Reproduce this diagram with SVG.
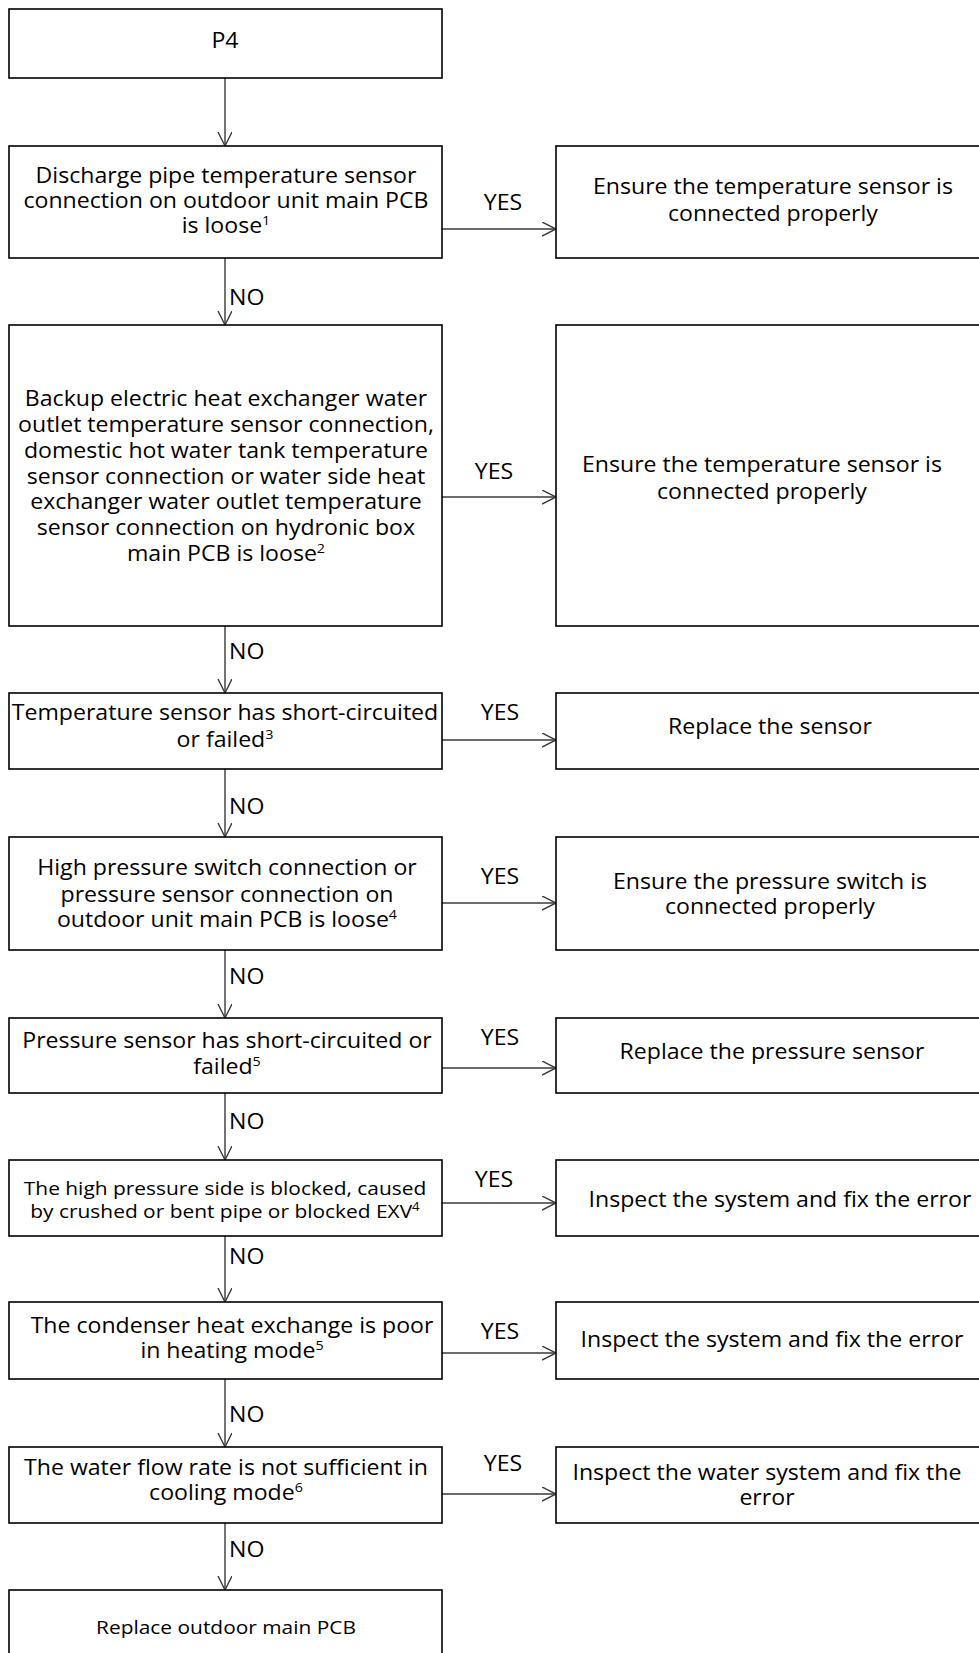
<svg xmlns="http://www.w3.org/2000/svg" width="979" height="1653" viewBox="0 0 979 1653">
<style>
.box{fill:#fff;stroke:#000;stroke-width:1.6}
.t{font-family:"Open Sans","Noto Sans",sans-serif;font-size:21px;fill:#000;text-anchor:middle;transform-box:fill-box;transform-origin:50% 50%;transform:scaleX(1.1)}
.lbl{font-family:"Open Sans","Noto Sans",sans-serif;font-size:21px;fill:#000;transform-box:fill-box;transform-origin:0% 50%;transform:scaleX(1.1)}
.sm{font-size:19px}
.c{stroke:#3a3a3a;stroke-width:1.4;fill:none;marker-end:url(#ah)}
</style>
<defs>
<marker id="ah" markerUnits="userSpaceOnUse" markerWidth="16" markerHeight="16" refX="14" refY="7" orient="auto">
<path d="M0,0 L14,7 L0,14" fill="none" stroke="#3a3a3a" stroke-width="1.4"/>
</marker>
</defs>
<rect width="979" height="1653" fill="#fff"/>
<g id="connectors">
<line class="c" x1="225" y1="78" x2="225" y2="146"/>
<line class="c" x1="225" y1="258" x2="225" y2="325"/>
<line class="c" x1="225" y1="626" x2="225" y2="693"/>
<line class="c" x1="225" y1="769" x2="225" y2="837"/>
<line class="c" x1="225" y1="950" x2="225" y2="1018"/>
<line class="c" x1="225" y1="1093" x2="225" y2="1160"/>
<line class="c" x1="225" y1="1236" x2="225" y2="1302"/>
<line class="c" x1="225" y1="1379" x2="225" y2="1447"/>
<line class="c" x1="225" y1="1523" x2="225" y2="1590"/>
<line class="c" x1="442" y1="229" x2="556" y2="229"/>
<line class="c" x1="442" y1="497" x2="556" y2="497"/>
<line class="c" x1="442" y1="740" x2="556" y2="740"/>
<line class="c" x1="442" y1="903" x2="556" y2="903"/>
<line class="c" x1="442" y1="1068" x2="556" y2="1068"/>
<line class="c" x1="442" y1="1203" x2="556" y2="1203"/>
<line class="c" x1="442" y1="1353" x2="556" y2="1353"/>
<line class="c" x1="442" y1="1494" x2="556" y2="1494"/>
<text class="t" x="503" y="210">YES</text>
<text class="t" x="494" y="479">YES</text>
<text class="t" x="500" y="720">YES</text>
<text class="t" x="500" y="884">YES</text>
<text class="t" x="500" y="1045">YES</text>
<text class="t" x="494" y="1187">YES</text>
<text class="t" x="500" y="1339">YES</text>
<text class="t" x="503" y="1471">YES</text>
<text class="lbl" x="229" y="305">NO</text>
<text class="lbl" x="229" y="659">NO</text>
<text class="lbl" x="229" y="814">NO</text>
<text class="lbl" x="229" y="984">NO</text>
<text class="lbl" x="229" y="1129">NO</text>
<text class="lbl" x="229" y="1264">NO</text>
<text class="lbl" x="229" y="1422">NO</text>
<text class="lbl" x="229" y="1557">NO</text>
</g>
<g id="p4">
<rect class="box" x="9" y="9" width="433" height="69"/>
<text class="t" x="225" y="48">P4</text>
</g>
<g id="d1">
<rect class="box" x="9" y="146" width="433" height="112"/>
<text class="t" x="226" y="183">Discharge pipe temperature sensor</text>
<text class="t" x="226" y="208">connection on outdoor unit main PCB</text>
<text class="t" x="226" y="233">is loose<tspan dy="-8" font-size="13">1</tspan></text>
</g>
<g id="r1">
<rect class="box" x="556" y="146" width="430" height="112"/>
<text class="t" x="773" y="194">Ensure the temperature sensor is</text>
<text class="t" x="773" y="221">connected properly</text>
</g>
<g id="d2">
<rect class="box" x="9" y="325" width="433" height="301"/>
<text class="t" x="226" y="406">Backup electric heat exchanger water</text>
<text class="t" x="226" y="432">outlet temperature sensor connection,</text>
<text class="t" x="226" y="458">domestic hot water tank temperature</text>
<text class="t" x="226" y="484">sensor connection or water side heat</text>
<text class="t" x="226" y="509">exchanger water outlet temperature</text>
<text class="t" x="226" y="535">sensor connection on hydronic box</text>
<text class="t" x="226" y="561">main PCB is loose<tspan dy="-8" font-size="13">2</tspan></text>
</g>
<g id="r2">
<rect class="box" x="556" y="325" width="430" height="301"/>
<text class="t" x="762" y="472">Ensure the temperature sensor is</text>
<text class="t" x="762" y="499">connected properly</text>
</g>
<g id="d3">
<rect class="box" x="9" y="693" width="433" height="76"/>
<text class="t" x="225" y="720">Temperature sensor has short-circuited</text>
<text class="t" x="225" y="747">or failed<tspan dy="-8" font-size="13">3</tspan></text>
</g>
<g id="r3">
<rect class="box" x="556" y="693" width="430" height="76"/>
<text class="t" x="770" y="734">Replace the sensor</text>
</g>
<g id="d4">
<rect class="box" x="9" y="837" width="433" height="113"/>
<text class="t" x="227" y="875">High pressure switch connection or</text>
<text class="t" x="227" y="902">pressure sensor connection on</text>
<text class="t" x="227" y="927">outdoor unit main PCB is loose<tspan dy="-8" font-size="13">4</tspan></text>
</g>
<g id="r4">
<rect class="box" x="556" y="837" width="430" height="113"/>
<text class="t" x="770" y="889">Ensure the pressure switch is</text>
<text class="t" x="770" y="914">connected properly</text>
</g>
<g id="d5">
<rect class="box" x="9" y="1018" width="433" height="75"/>
<text class="t" x="227" y="1048">Pressure sensor has short-circuited or</text>
<text class="t" x="227" y="1074">failed<tspan dy="-8" font-size="13">5</tspan></text>
</g>
<g id="r5">
<rect class="box" x="556" y="1018" width="430" height="75"/>
<text class="t" x="772" y="1059">Replace the pressure sensor</text>
</g>
<g id="d6">
<rect class="box" x="9" y="1160" width="433" height="76"/>
<text class="t sm" x="225" y="1195">The high pressure side is blocked, caused</text>
<text class="t sm" x="225" y="1218">by crushed or bent pipe or blocked EXV<tspan dy="-7" font-size="12">4</tspan></text>
</g>
<g id="r6">
<rect class="box" x="556" y="1160" width="430" height="76"/>
<text class="t" x="780" y="1207">Inspect the system and fix the error</text>
</g>
<g id="d7">
<rect class="box" x="9" y="1302" width="433" height="77"/>
<text class="t" x="232" y="1333">The condenser heat exchange is poor</text>
<text class="t" x="232" y="1358">in heating mode<tspan dy="-8" font-size="13">5</tspan></text>
</g>
<g id="r7">
<rect class="box" x="556" y="1302" width="430" height="77"/>
<text class="t" x="772" y="1347">Inspect the system and fix the error</text>
</g>
<g id="d8">
<rect class="box" x="9" y="1447" width="433" height="76"/>
<text class="t" x="226" y="1475">The water flow rate is not sufficient in</text>
<text class="t" x="226" y="1500">cooling mode<tspan dy="-8" font-size="13">6</tspan></text>
</g>
<g id="r8">
<rect class="box" x="556" y="1447" width="430" height="76"/>
<text class="t" x="767" y="1480">Inspect the water system and fix the</text>
<text class="t" x="767" y="1505">error</text>
</g>
<g id="d9">
<rect class="box" x="9" y="1590" width="433" height="80"/>
<text class="t sm" x="226" y="1634">Replace outdoor main PCB</text>
</g>
</svg>
